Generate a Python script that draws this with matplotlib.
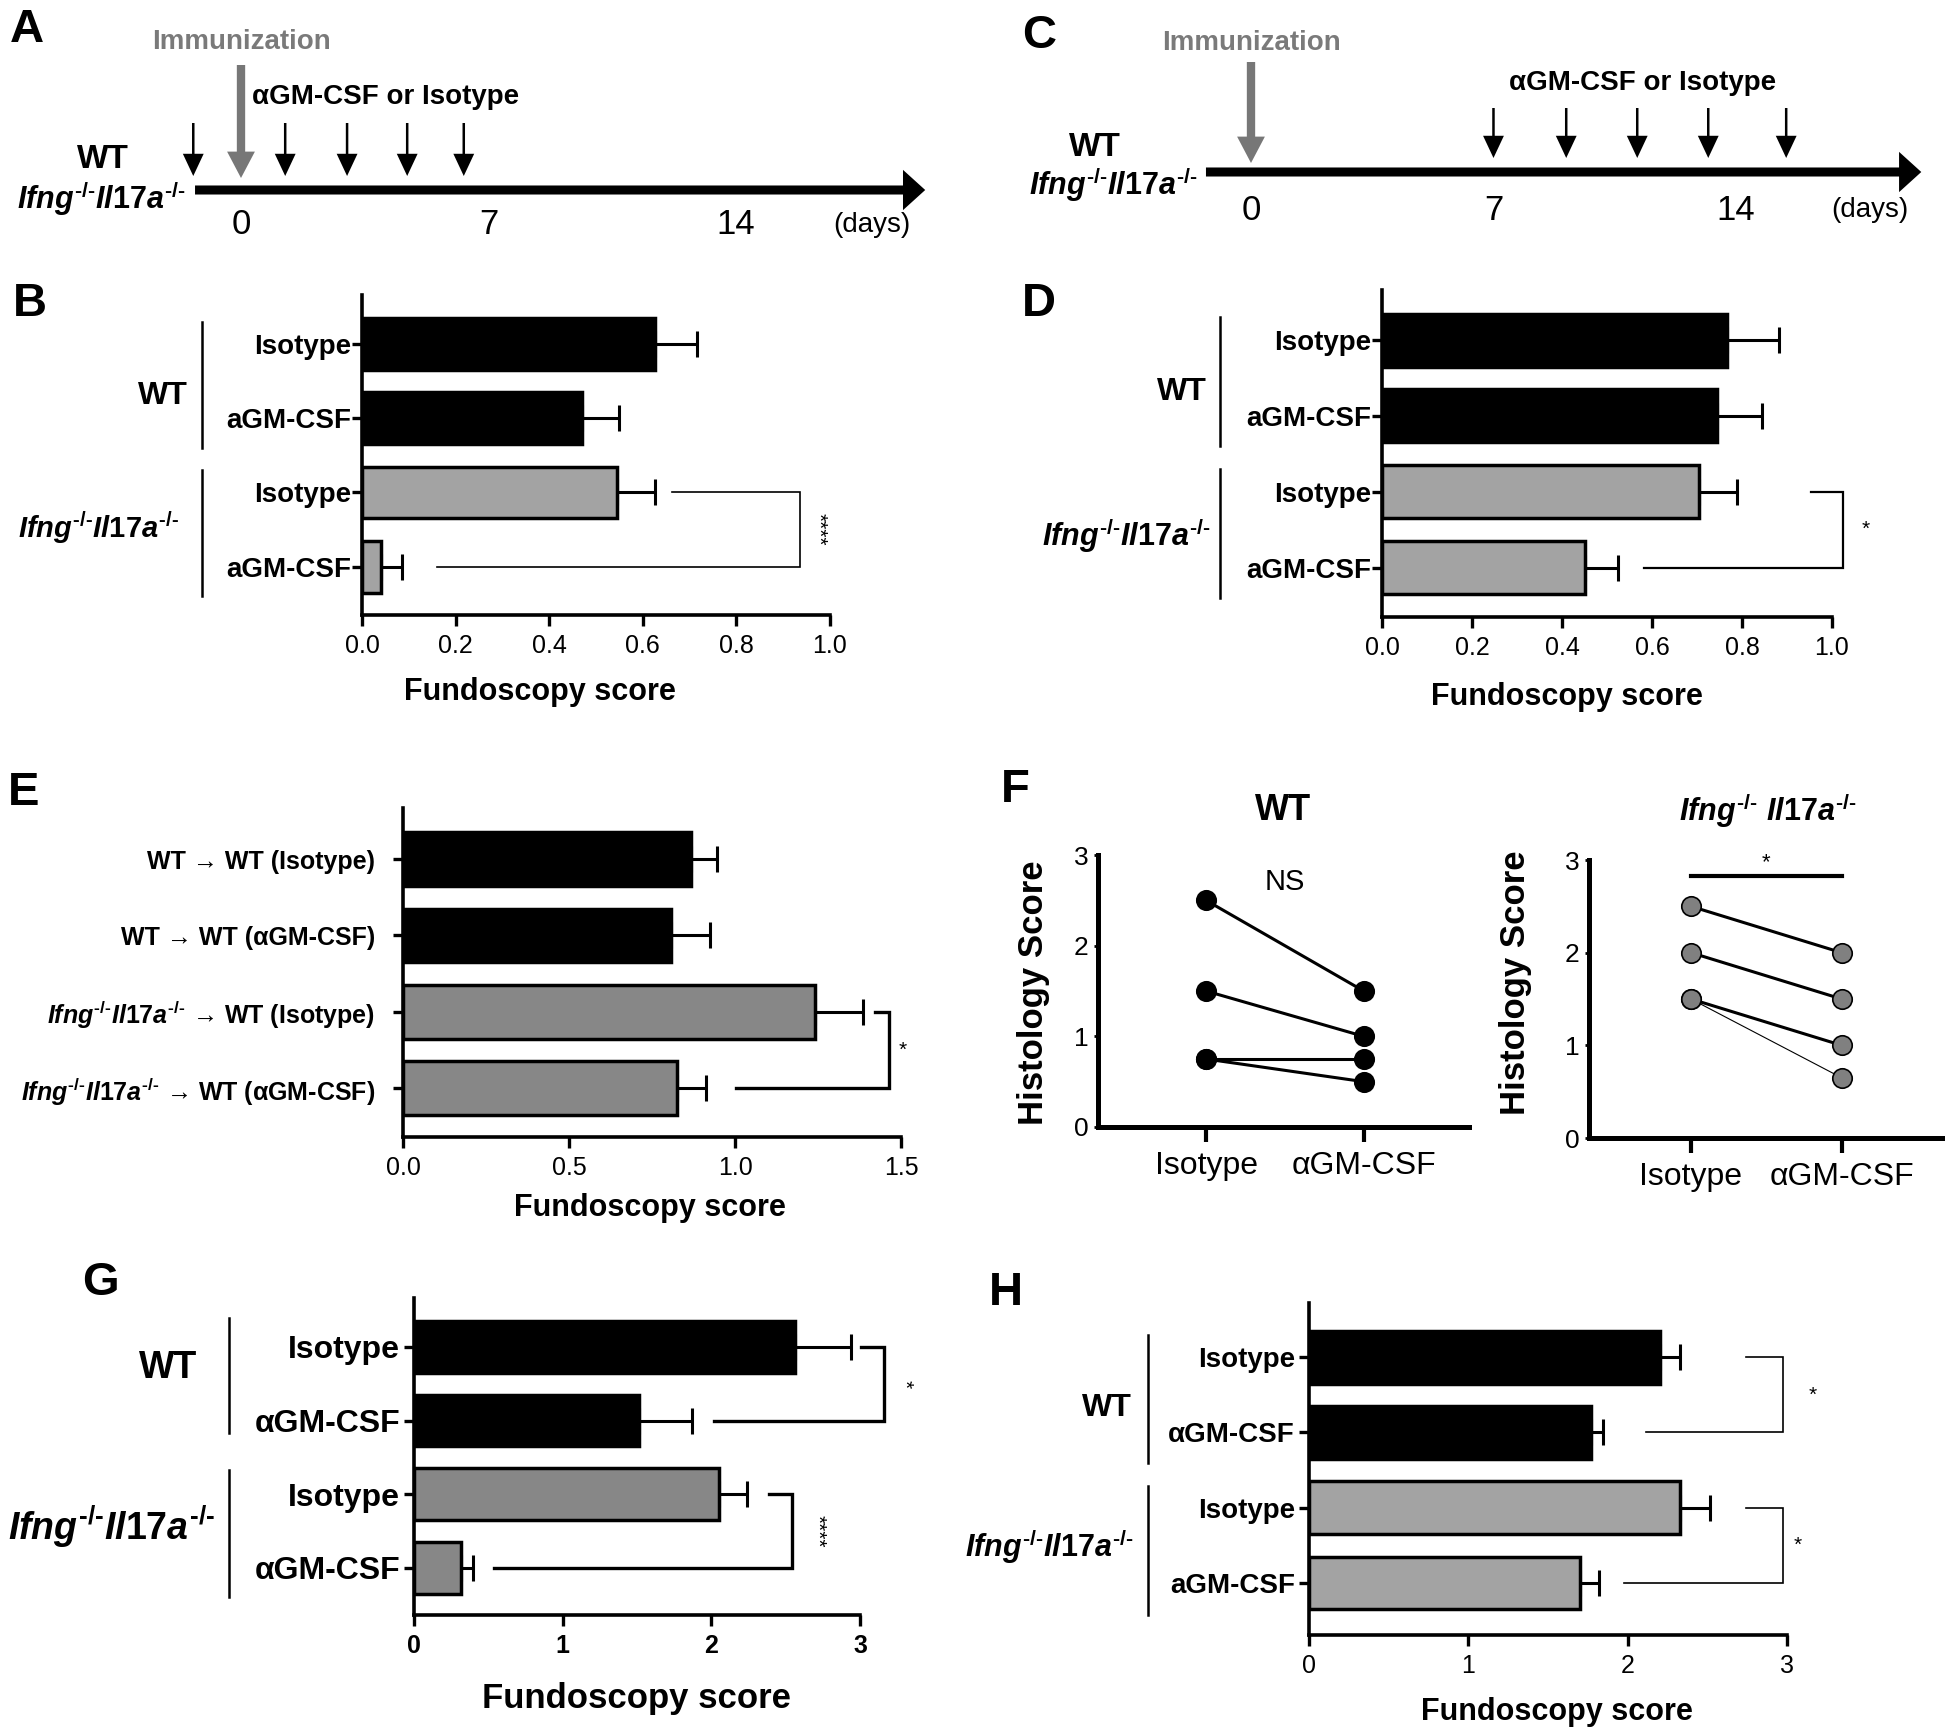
import numpy as np
import matplotlib
matplotlib.use("Agg")
import matplotlib.pyplot as plt
from matplotlib import transforms
from matplotlib.mathtext import MathTextParser

plt.rcParams["font.family"] = ["Liberation Sans", "DejaVu Sans"]
plt.rcParams["mathtext.fontset"] = "custom"
plt.rcParams["mathtext.rm"] = "Liberation Sans:bold"
plt.rcParams["mathtext.it"] = "Liberation Sans:italic:bold"
plt.rcParams["mathtext.bf"] = "Liberation Sans:bold"

NARROW = ["Liberation Sans Narrow", "Liberation Sans", "DejaVu Sans"]

# superscript "-/-" with plain hyphens when mathtext supports \text
SUP = r"^{\text{-/-}}"
try:
    MathTextParser("agg").parse("$a" + SUP + "$", 100)
except Exception:
    SUP = r"^{-/-}"
IFNG = r"$\mathit{Ifng}" + SUP + r"\mathit{Il17a}" + SUP + "$"
IFNG_SP = r"$\mathit{Ifng}" + SUP + r"\ \mathit{Il17a}" + SUP + "$"

# ---------------- data ----------------
# A / C: treatment schedules (days)
a_injection_days = [-1.35, 1.25, 3.0, 4.7, 6.3]
c_injection_days = [7.0, 9.1, 11.15, 13.2, 15.45]
immunization_day = 0
timeline_ticks = [0, 7, 14]
timeline_span = (-1.3, 19.35)

# B
b_labels = ["Isotype", "aGM-CSF", "Isotype", "aGM-CSF"]
b_values = [0.625, 0.47, 0.545, 0.04]
b_errors = [0.09, 0.08, 0.08, 0.045]

# D
d_labels = ["Isotype", "aGM-CSF", "Isotype", "aGM-CSF"]
d_values = [0.767, 0.744, 0.704, 0.451]
d_errors = [0.115, 0.10, 0.084, 0.073]

# E
e_labels = ["WT → WT (Isotype)", "WT → WT (αGM-CSF)",
            IFNG + " → WT (Isotype)", IFNG + " → WT (αGM-CSF)"]
e_values = [0.867, 0.808, 1.241, 0.825]
e_errors = [0.078, 0.117, 0.146, 0.087]

# F: paired histology scores
f_categories = ["Isotype", "αGM-CSF"]
f_wt_isotype = [2.5, 1.5, 0.75, 0.75]
f_wt_agmcsf = [1.5, 1.0, 0.75, 0.5]
f_ko_isotype = [2.5, 2.0, 1.5, 1.5]
f_ko_agmcsf = [2.0, 1.5, 1.0, 0.65]

# G
g_labels = ["Isotype", "αGM-CSF", "Isotype", "αGM-CSF"]
g_values = [2.564, 1.514, 2.05, 0.313]
g_errors = [0.376, 0.358, 0.19, 0.082]

# H
h_labels = ["Isotype", "αGM-CSF", "Isotype", "aGM-CSF"]
h_values = [2.2, 1.772, 2.327, 1.70]
h_errors = [0.127, 0.071, 0.19, 0.123]

# ---------------- figure helpers ----------------
W, H = 1950, 1735
fig = plt.figure(figsize=(W / 100, H / 100), dpi=100)


def px_rect(x0, y0, x1, y1):
    return [x0 / W, 1 - y1 / H, (x1 - x0) / W, (y1 - y0) / H]


def px_text(x, y, s, **kw):
    kw.setdefault("ha", "center")
    kw.setdefault("va", "center")
    fig.text(x / W, 1 - y / H, s, **kw)


def arrow(ax, x0, y0, x1, y1, tail, hw, hl, color):
    style = f"simple,head_length={hl},head_width={hw},tail_width={tail}"
    ax.annotate("", xy=(x1, y1), xytext=(x0, y0),
                arrowprops=dict(arrowstyle=style, mutation_scale=1, color=color,
                                lw=0, shrinkA=0, shrinkB=0))


def draw_timeline(lay, injection_days):
    x0, x1 = lay["x_px"]
    ax = fig.add_axes(px_rect(x0, 0, x1, 250))
    ax.set_xlim((x0 - lay["day0"]) / lay["ppd"], (x1 - lay["day0"]) / lay["ppd"])
    ax.set_ylim(250, 0)
    ax.axis("off")
    ly = lay["line_y"]
    arrow(ax, timeline_span[0], ly, timeline_span[1], ly, 6.5, 29, 16, "black")
    top, tip = lay["inj_y"]
    for d in injection_days:
        arrow(ax, d, top, d, tip, 1.8, 15, 16, "black")
    top, tip = lay["imm_y"]
    arrow(ax, immunization_day, top, immunization_day, tip, 6, 20, 19, "#777777")
    ax.text(immunization_day, lay["imm_text_y"], "Immunization", ha="center",
            va="center", fontsize=20, fontweight="bold", color="#7a7a7a")
    tx, ha = lay["inj_text_x"]
    ax.text(tx, lay["inj_text_y"], "αGM-CSF or Isotype", ha=ha, va="center",
            fontsize=20, fontweight="bold")
    for t in timeline_ticks:
        ax.text(t, lay["tick_y"], str(t), ha="center", va="center", fontsize=25,
                family=NARROW)
    ax.text(lay["days_x"], lay["tick_y"], "(days)", ha="center", va="center",
            fontsize=20, family=NARROW)
    px_text(lay["wt"][0], lay["wt"][1], "WT", fontsize=24, fontweight="bold")
    px_text(lay["ko"][0], lay["ko"][1], IFNG, fontsize=22, ha="right")


def bar_panel(lay, labels, values, errors):
    ax = fig.add_axes(px_rect(*lay["rect"]))
    y = np.arange(len(values))
    colors = ["black", "black", lay["gray"], lay["gray"]]
    ax.barh(y, values, height=0.7, color=colors, edgecolor="black",
            linewidth=2.5, zorder=3)
    ax.errorbar(values, y, xerr=[np.zeros(len(values)), errors], fmt="none",
                ecolor="black", elinewidth=2.2, capsize=9.7, capthick=2.2,
                zorder=2)
    ax.set_xlim(lay["xlim"])
    ax.set_ylim(lay["ylim"])
    for s in ["top", "right"]:
        ax.spines[s].set_visible(False)
    for s in ["left", "bottom"]:
        ax.spines[s].set_linewidth(2.6)
    ax.set_yticks(y, labels, fontsize=lay["ysize"], fontweight="bold")
    ax.tick_params(axis="y", length=7, width=2.4, pad=lay["ypad"])
    ax.set_xticks(lay["xticks"], lay["xticklabels"], fontsize=18,
                  fontweight=lay["xweight"], family=NARROW)
    ax.tick_params(axis="x", length=8, width=2.4, pad=6)
    for (i, j, xt, xv, xb, xs, txt, rot) in lay["brackets"]:
        ax.plot([xt, xv, xv, xb], [i, i, j, j], color="black",
                lw=lay["blw"], clip_on=False, solid_joinstyle="miter")
        ax.text(xs, (i + j) / 2, txt, rotation=rot, ha="center", va="center",
                fontsize=15, clip_on=False)
    blend = transforms.blended_transform_factory(fig.transFigure, ax.transData)
    for (y0, y1, lx, ly, txt, size) in lay.get("groups", []):
        ax.plot([lay["group_x"] / W] * 2, [y0, y1], transform=blend,
                color="black", lw=1.8, clip_on=False)
        ax.text(lx / W, ly, txt, transform=blend, ha="right", va="center",
                fontsize=size, fontweight="bold", clip_on=False)
    cx, cy, size = lay["xlabel"]
    px_text(cx, cy, "Fundoscopy score", fontsize=size, fontweight="bold")
    return ax


def pair_panel(lay, iso, agm, face, widths):
    ax = fig.add_axes(px_rect(*lay["rect"]))
    for a, b, lw in zip(iso, agm, widths):
        ax.plot([0, 1], [a, b], color="black", lw=lw, marker="o", ms=14,
                mfc=face, mec="black", mew=1.2, zorder=3, clip_on=False)
    ax.set_xlim(lay["xlim"])
    ax.set_ylim(0, 3)
    for s in ["top", "right"]:
        ax.spines[s].set_visible(False)
    for s in ["left", "bottom"]:
        ax.spines[s].set_linewidth(3.6)
    ax.set_xticks([0, 1], f_categories, fontsize=23, family=NARROW)
    ax.tick_params(axis="x", length=11, width=3, pad=6)
    ax.set_yticks([0, 1, 2, 3], ["0", "1", "2", "3"], fontsize=19, family=NARROW)
    ax.tick_params(axis="y", length=3, width=2, pad=4)
    px_text(lay["ylabel"][0], lay["ylabel"][1], "Histology Score", fontsize=25,
            fontweight="bold", rotation=90)
    return ax


# ---------------- A / C ----------------
draw_timeline(dict(x_px=(0, 975), day0=241, ppd=35.36, line_y=190,
                   inj_y=(123, 176), imm_y=(65, 178), imm_text_y=42,
                   inj_text_x=(0.3, "left"), inj_text_y=97, tick_y=225,
                   days_x=17.85, wt=(103, 160), ko=(186, 198)),
              a_injection_days)
draw_timeline(dict(x_px=(975, 1950), day0=1251, ppd=34.64, line_y=172,
                   inj_y=(108, 158), imm_y=(62, 163), imm_text_y=43,
                   inj_text_x=(11.3, "center"), inj_text_y=83, tick_y=210,
                   days_x=17.87, wt=(1095, 147), ko=(1198, 185)),
              c_injection_days)

dec_ticks = [0, 0.2, 0.4, 0.6, 0.8, 1.0]
bar_panel(dict(rect=(362, 295, 830, 615), ylim=(3.65, -0.66), xlim=(0, 1.0),
               xticks=dec_ticks, xticklabels=[f"{t:.1f}" for t in dec_ticks],
               xweight="normal", ysize=20, ypad=1, gray="#a3a3a3",
               xlabel=(540, 692, 22), blw=1.2,
               brackets=[(2, 3, 0.663, 0.935, 0.16, 0.974, "****", 270)],
               group_x=202,
               groups=[(-0.3, 1.4, 188, 0.7, "WT", 23),
                       (1.7, 3.4, 179, 2.48, IFNG, 21)]),
          b_labels, b_values, b_errors)

bar_panel(dict(rect=(1382, 290, 1832, 617), ylim=(3.65, -0.66), xlim=(0, 1.0),
               xticks=dec_ticks, xticklabels=[f"{t:.1f}" for t in dec_ticks],
               xweight="normal", ysize=20, ypad=1, gray="#a3a3a3",
               xlabel=(1567, 697, 22), blw=1.6,
               brackets=[(2, 3, 0.954, 1.025, 0.583, 1.075, "*", 0)],
               group_x=1220,
               groups=[(-0.3, 1.4, 1207, 0.69, "WT", 23),
                       (1.7, 3.4, 1211, 2.57, IFNG, 22)]),
          d_labels, d_values, d_errors)

e_ticks = [0, 0.5, 1.0, 1.5]
bar_panel(dict(rect=(403, 808, 901, 1137), ylim=(3.64, -0.67), xlim=(0, 1.5),
               xticks=e_ticks, xticklabels=[f"{t:.1f}" for t in e_ticks],
               xweight="normal", ysize=18, ypad=13, gray="#878787",
               xlabel=(650, 1208, 22), blw=2.4,
               brackets=[(2, 3, 1.423, 1.465, 1.004, 1.505, "*", 0)]),
          e_labels, e_values, e_errors)

int_ticks = [0, 1, 2, 3]
bar_panel(dict(rect=(414, 1298, 860, 1615), ylim=(3.64, -0.665), xlim=(0, 3),
               xticks=int_ticks, xticklabels=[str(t) for t in int_ticks],
               xweight="bold", ysize=23, ypad=3, gray="#878787",
               xlabel=(636, 1698, 25), blw=2.4,
               brackets=[(0, 1, 3.01, 3.16, 2.02, 3.30, "*", 270),
                         (2, 3, 2.39, 2.54, 0.537, 2.71, "****", 270)],
               group_x=229,
               groups=[(-0.4, 1.17, 197, 0.28, "WT", 27),
                       (1.67, 3.4, 215, 2.44, IFNG, 27)]),
          g_labels, g_values, g_errors)

bar_panel(dict(rect=(1309, 1303, 1787, 1635), ylim=(3.69, -0.72), xlim=(0, 3),
               xticks=int_ticks, xticklabels=[str(t) for t in int_ticks],
               xweight="normal", ysize=20, ypad=3, gray="#a3a3a3",
               xlabel=(1557, 1712, 22), blw=1.2,
               brackets=[(0, 1, 2.743, 2.973, 2.117, 3.16, "*", 0),
                         (2, 3, 2.743, 2.973, 1.978, 3.07, "*", 0)],
               group_x=1148,
               groups=[(-0.3, 1.41, 1132, 0.68, "WT", 23),
                       (1.71, 3.43, 1134, 2.52, IFNG, 22)]),
          h_labels, h_values, h_errors)

# ---------------- F ----------------
ax_fl = pair_panel(dict(rect=(1098, 855, 1469, 1127), xlim=(-0.685, 1.668),
                        ylabel=(1033, 993)),
                   f_wt_isotype, f_wt_agmcsf, "black", [2.2, 2.2, 2.2, 2.2])
ax_fl.text(0.5, 2.7, "NS", ha="center", va="center", fontsize=21, family=NARROW)
px_text(1283, 810, "WT", fontsize=26, fontweight="bold")

ax_fr = pair_panel(dict(rect=(1589, 860, 1942, 1138), xlim=(-0.677, 1.666),
                        ylabel=(1515, 983)),
                   f_ko_isotype, f_ko_agmcsf, "#808080", [2.2, 2.2, 2.2, 0.8])
ax_fr.plot([0, 1], [2.83, 2.83], color="black", lw=3, clip_on=False)
ax_fr.text(0.5, 2.97, "*", ha="center", va="center", fontsize=16)
px_text(1768, 810, IFNG_SP, fontsize=22)

# ---------------- panel letters ----------------
for letter, x, y in [("A", 27, 30), ("B", 30, 304), ("C", 1039, 36),
                     ("D", 1039, 304), ("E", 24, 793), ("F", 1015, 790),
                     ("G", 100, 1283), ("H", 1006, 1293)]:
    px_text(x, y, letter, fontsize=34, fontweight="bold")

fig.savefig("out.png", dpi=100)
